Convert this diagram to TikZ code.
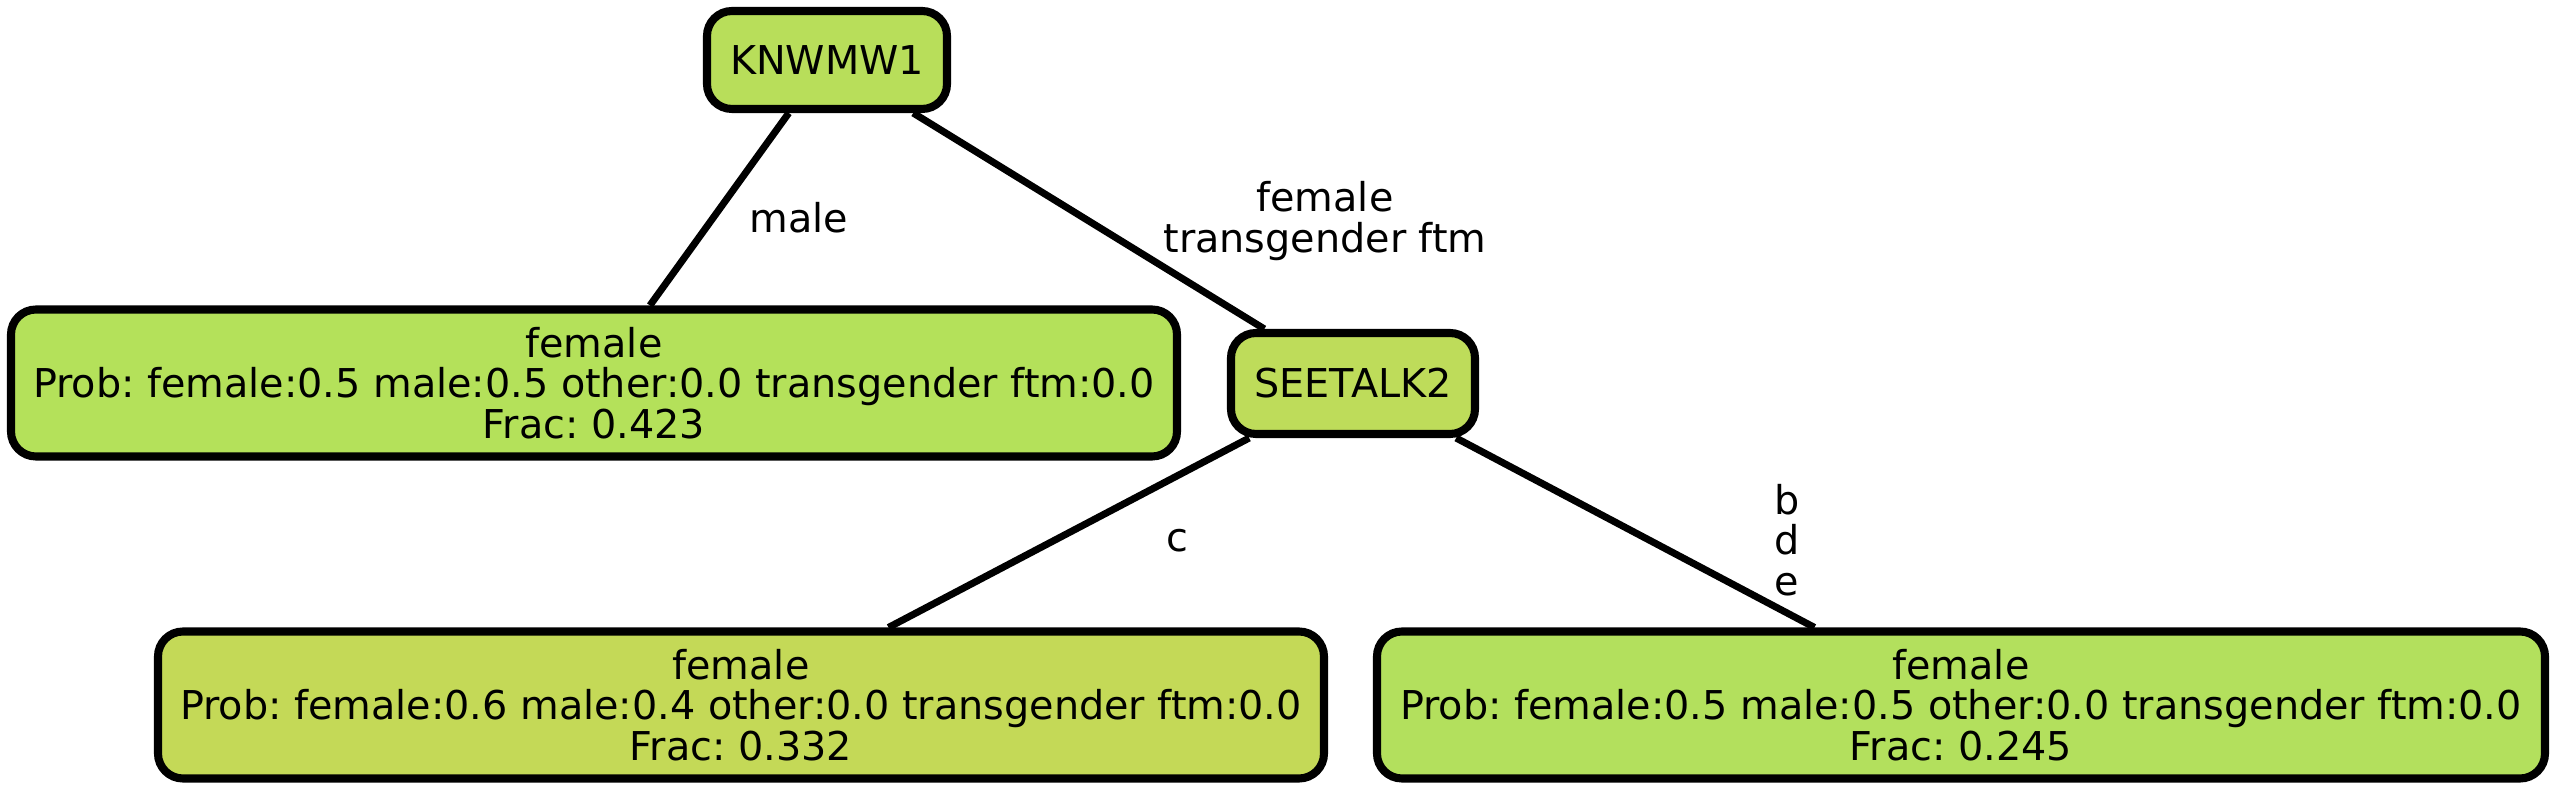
\documentclass[tikz,border=0pt]{standalone}
\usepackage{fontspec}
\setmainfont{DejaVu Sans}
\begin{document}
\frenchspacing
\begin{tikzpicture}[x=1cm, y=1cm,
    every node/.style={font=\fontsize{11.3}{11.6}\selectfont, align=center, inner sep=0pt},
    split/.style={draw, line width=2.3pt, rounded corners=0.25cm, minimum height=0.98cm, minimum width=2.4cm},
    leaf/.style={draw, line width=2.3pt, rounded corners=0.25cm, minimum height=1.47cm, minimum width=11.66cm},
    link/.style={line width=2pt}]
      \useasboundingbox (0,0) rectangle (25.56,-7.92);
      \definecolor{cknwmw}{RGB}{184,222,90}
      \definecolor{cseetalk}{RGB}{190,220,90}
      \definecolor{cleafa}{RGB}{180,225,90}
      \definecolor{cleafb}{RGB}{196,217,87}
      \definecolor{cleafc}{RGB}{179,224,93}
      \node[split, fill=cknwmw] (knwmw) at (8.27, -0.60) {KNWMW1};
      \node[split, fill=cseetalk, minimum width=2.44cm, minimum height=1.01cm] (seetalk) at (13.53, -3.835) {SEETALK2};
      \node[leaf, fill=cleafa] (leafa) at (5.94, -3.83) {female\\Prob: female:0.5 male:0.5 other:0.0 transgender ftm:0.0\\Frac: 0.423};
      \node[leaf, fill=cleafb] (leafb) at (7.41, -7.05) {female\\Prob: female:0.6 male:0.4 other:0.0 transgender ftm:0.0\\Frac: 0.332};
      \node[leaf, fill=cleafc, minimum width=11.68cm] (leafc) at (19.61, -7.05) {female\\Prob: female:0.5 male:0.5 other:0.0 transgender ftm:0.0\\Frac: 0.245};
      \draw[link] (knwmw) -- (leafa);
      \draw[link] (knwmw) -- (seetalk);
      \draw[link] (seetalk) -- (leafb);
      \draw[link] (seetalk) -- (leafc);
      \node (lmale) at (7.99, -2.18) {male};
      \node (lfem) at (13.25, -2.21) {female\\transgender ftm};
      \node (lc) at (11.77, -5.41) {c};
      \node (lbde) at (17.87, -5.40) {b\\d\\e};
    \end{tikzpicture}
\end{document}
